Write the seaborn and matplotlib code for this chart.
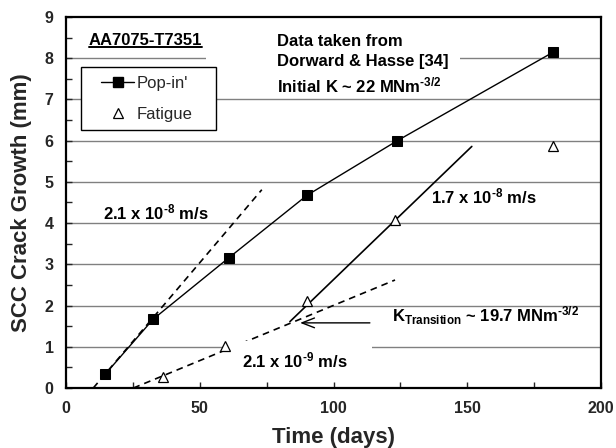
import matplotlib
matplotlib.use("Agg")
import matplotlib.pyplot as plt
import seaborn as sns
import pandas as pd
from matplotlib.patches import Rectangle
from matplotlib.lines import Line2D

# ---- data ----
popin_days = [14.6, 32.6, 60.9, 90.0, 123.6, 182.2]
popin_mm = [0.33, 1.67, 3.16, 4.67, 5.99, 8.15]
fatigue_days = [36.4, 59.4, 90.0, 123.0, 182.2]
fatigue_mm = [0.27, 1.02, 2.12, 4.08, 5.88]
fit_fast_days = [10.2, 73.2]      # 2.1e-8 m/s
fit_fast_mm = [0.0, 4.81]
fit_mid_days = [83.7, 151.7]      # 1.7e-8 m/s
fit_mid_mm = [1.61, 5.86]
fit_slow_days = [25.2, 123.0]     # 2.1e-9 m/s
fit_slow_mm = [0.0, 2.62]
x_ticks = [0, 50, 100, 150, 200]
y_ticks = [0, 1, 2, 3, 4, 5, 6, 7, 8, 9]

sns.set_style("ticks")
plt.rcParams["font.family"] = ["Liberation Sans", "DejaVu Sans"]
plt.rcParams["mathtext.fontset"] = "custom"
plt.rcParams["mathtext.rm"] = "Liberation Sans:bold"
plt.rcParams["mathtext.bf"] = "Liberation Sans:bold"
plt.rcParams["mathtext.it"] = "Liberation Sans:bold"

fig = plt.figure(figsize=(6.16, 4.48), dpi=100)
ax = fig.add_axes([66/616, 1-388/448, 535/616, 371/448])

ax.set_xlim(0, 200)
ax.set_ylim(0, 9)

def ax_px(x0, y0, x1, y1):
    """figure-pixel box (top-left origin) -> axes fraction rect"""
    return ((x0-66)/535, (388-y1)/371), (x1-x0)/535, (y1-y0)/371

# gridlines
for yv in y_ticks[1:-1]:
    ax.axhline(yv, color="#808080", lw=1.0, zorder=0)

# white gap in y=8 gridline behind the source text
xy, w, h = ax_px(206, 50, 460, 70)
ax.add_patch(Rectangle(xy, w, h, transform=ax.transAxes, fc="white", ec="none", zorder=0.5))
# white gap in y=1 gridline behind the slow-rate label
xy, w, h = ax_px(228, 341, 372, 378)
ax.add_patch(Rectangle(xy, w, h, transform=ax.transAxes, fc="white", ec="none", zorder=4.5))

pop = pd.DataFrame({"days": popin_days, "mm": popin_mm})

sns.lineplot(data=pop, x="days", y="mm", ax=ax, color="black", lw=1.0,
             marker="s", markersize=7.5, markeredgecolor="black",
             markerfacecolor="black", estimator=None, sort=False, zorder=5)
ax.plot(fatigue_days, fatigue_mm, ls="none", marker="^", markersize=7,
        markerfacecolor="white", markeredgecolor="black", markeredgewidth=0.9,
        zorder=9)

for xs, ys, ls in [(fit_fast_days, fit_fast_mm, (0, (4, 3))),
                   (fit_mid_days, fit_mid_mm, "-"),
                   (fit_slow_days, fit_slow_mm, (0, (4, 3)))]:
    sns.lineplot(x=xs, y=ys, ax=ax, color="black", lw=1.2, linestyle=ls,
                 estimator=None, sort=False, zorder=4)

# legend frame (drawn separately to match the reference padding)
xy, w, h = ax_px(81, 67, 216, 130)
ax.add_patch(Rectangle(xy, w, h, transform=ax.transAxes, fc="white", ec="black",
                       lw=1.0, zorder=9.5))
handles = [Line2D([], [], color="black", lw=1.0, marker="s", markersize=7.5),
           Line2D([], [], ls="none", marker="^", markersize=6.5, markerfacecolor="white",
                  markeredgecolor="black", markeredgewidth=0.9)]
leg = ax.legend(handles, ["Pop-in'", "Fatigue"], loc="upper left",
                bbox_to_anchor=((101-66)/535, (388-76)/371), fontsize=12,
                frameon=False, handlelength=2.0, handletextpad=0.15, borderpad=0,
                borderaxespad=0, labelspacing=0.95)
leg.set_zorder(10)

bold = dict(fontsize=12, fontweight="bold", color="black")
t_aa = ax.text(8.6, 8.33, "AA7075-T7351", ha="left", va="baseline", zorder=8, **bold)
ax.text(78.9, 8.30, "Data taken from", ha="left", va="baseline", zorder=8, **bold)
ax.text(78.9, 7.82, "Dorward & Hasse [34]", ha="left", va="baseline", zorder=8, **bold)
ax.text(78.9, 7.18, r"Initial K ~ 22 MNm$^{\text{-3/2}}$", ha="left", va="baseline", zorder=8, **bold)
ax.text(13.8, 4.10, r"2.1 x 10$^{\text{-8}}$ m/s", ha="left", va="baseline", zorder=8, **bold)
ax.text(136.4, 4.49, r"1.7 x 10$^{\text{-8}}$ m/s", ha="left", va="baseline", zorder=8, **bold)
ax.text(121.9, 1.60, r"K$_{\text{Transition}}$ ~ 19.7 MNm$^{\text{-3/2}}$", ha="left",
        va="baseline", zorder=8, **bold)
ax.text(65.7, 0.51, r"2.1 x 10$^{\text{-9}}$ m/s", ha="left", va="baseline", zorder=8, **bold)

ax.annotate("", xy=(87.5, 1.58), xytext=(113.6, 1.58),
            arrowprops=dict(arrowstyle="->,head_length=0.9,head_width=0.35",
                            color="black", lw=1.0, shrinkA=0, shrinkB=0), zorder=7)

# axes styling
ax.set_xticks(x_ticks)
ax.set_xticks([25, 75, 125, 175], minor=True)
ax.set_yticks(y_ticks)
ax.set_yticks([v + 0.5 for v in y_ticks[:-1]], minor=True)
ax.tick_params(which="both", direction="in", length=4, width=1.0)
ax.tick_params(axis="both", labelsize=11.5)
for lab in ax.get_xticklabels() + ax.get_yticklabels():
    lab.set_fontweight("bold")
ax.tick_params(axis="x", pad=9)
ax.tick_params(axis="y", pad=9)
for sp in ax.spines.values():
    sp.set_visible(True)
    sp.set_linewidth(1.6)
    sp.set_color("black")

ax.set_xlabel("Time (days)", fontsize=16, fontweight="bold", labelpad=8)
ax.set_ylabel("SCC Crack Growth (mm)", fontsize=16, fontweight="bold", labelpad=9)

# underline the alloy label
fig.canvas.draw()
bb = t_aa.get_window_extent()
fig.add_artist(Line2D([bb.x0/fig.bbox.width, bb.x1/fig.bbox.width],
                      [(448 - 47.5)/448]*2, color="black", lw=1.4))

fig.savefig("out.png", dpi=100)
